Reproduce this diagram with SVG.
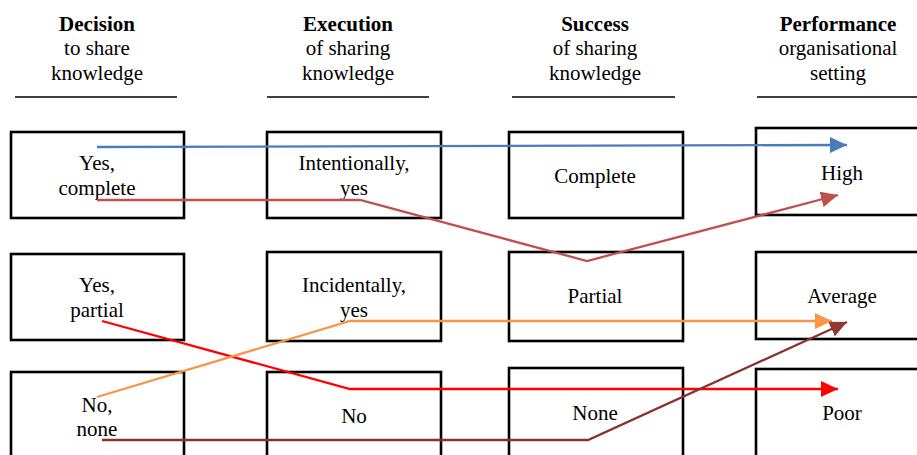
<svg xmlns="http://www.w3.org/2000/svg" width="917" height="455" viewBox="0 0 917 455">
  <style>
    text { font-family: 'Liberation Serif', 'Times New Roman', Tinos, 'DejaVu Serif', serif; font-size: 21px; fill: #000; text-anchor: middle; }
    .hd { font-weight: bold; }
    .rule { stroke: #000; stroke-width: 1.5; }
    .box { fill: none; stroke: #000; stroke-width: 2.6; }
    .link { fill: none; stroke-width: 2.3; stroke-linejoin: miter; }
  </style>
  <defs>
    <marker id="ah-blue" markerUnits="userSpaceOnUse" markerWidth="18" markerHeight="16" refX="17" refY="8" orient="auto"><path d="M0,0 L17,8 L0,16 Z" fill="#4A7EBB"/></marker>
    <marker id="ah-rose" markerUnits="userSpaceOnUse" markerWidth="18" markerHeight="16" refX="17" refY="8" orient="auto"><path d="M0,0 L17,8 L0,16 Z" fill="#C0504D"/></marker>
    <marker id="ah-red" markerUnits="userSpaceOnUse" markerWidth="18" markerHeight="16" refX="17" refY="8" orient="auto"><path d="M0,0 L17,8 L0,16 Z" fill="#FF0000"/></marker>
    <marker id="ah-orange" markerUnits="userSpaceOnUse" markerWidth="18" markerHeight="16" refX="17" refY="8" orient="auto"><path d="M0,0 L17,8 L0,16 Z" fill="#F79646"/></marker>
    <marker id="ah-brown" markerUnits="userSpaceOnUse" markerWidth="18" markerHeight="16" refX="17" refY="8" orient="auto"><path d="M0,0 L17,8 L0,16 Z" fill="#953735"/></marker>
  </defs>

  <g font-family="Liberation Serif, Times New Roman, DejaVu Serif, serif">
  <!-- column headers -->
  <g id="header-decision">
    <text x="97" y="31" class="hd">Decision</text>
    <text x="97" y="55">to share</text>
    <text x="97" y="80">knowledge</text>
    <line class="rule" x1="15" y1="97" x2="177" y2="97"/>
  </g>
  <g id="header-execution">
    <text x="348" y="31" class="hd">Execution</text>
    <text x="348" y="55">of sharing</text>
    <text x="348" y="80">knowledge</text>
    <line class="rule" x1="267" y1="97" x2="429" y2="97"/>
  </g>
  <g id="header-success">
    <text x="595" y="31" class="hd">Success</text>
    <text x="595" y="55">of sharing</text>
    <text x="595" y="80">knowledge</text>
    <line class="rule" x1="512" y1="97" x2="675" y2="97"/>
  </g>
  <g id="header-performance">
    <text x="838" y="31" class="hd">Performance</text>
    <text x="838" y="55">organisational</text>
    <text x="838" y="80">setting</text>
    <line class="rule" x1="757" y1="97" x2="917" y2="97"/>
  </g>

  <!-- decision column -->
  <g id="dec-yes-complete">
    <rect class="box" x="11" y="132" width="173" height="86"/>
    <text x="97" y="170">Yes,</text>
    <text x="97" y="195">complete</text>
  </g>
  <g id="dec-yes-partial">
    <rect class="box" x="11" y="254" width="173" height="86"/>
    <text x="97" y="292">Yes,</text>
    <text x="97" y="317">partial</text>
  </g>
  <g id="dec-no-none">
    <rect class="box" x="11" y="372" width="173" height="100"/>
    <text x="97" y="412">No,</text>
    <text x="97" y="436">none</text>
  </g>

  <!-- execution column -->
  <g id="exe-intentionally">
    <rect class="box" x="267" y="132" width="174" height="86"/>
    <text x="354" y="170">Intentionally,</text>
    <text x="354" y="195">yes</text>
  </g>
  <g id="exe-incidentally">
    <rect class="box" x="267" y="252" width="174" height="89"/>
    <text x="354" y="292">Incidentally,</text>
    <text x="354" y="317">yes</text>
  </g>
  <g id="exe-no">
    <rect class="box" x="267" y="372" width="174" height="100"/>
    <text x="354" y="423">No</text>
  </g>

  <!-- success column -->
  <g id="suc-complete">
    <rect class="box" x="509" y="132" width="174" height="86"/>
    <text x="595" y="183">Complete</text>
  </g>
  <g id="suc-partial">
    <rect class="box" x="509" y="252" width="174" height="89"/>
    <text x="595" y="303">Partial</text>
  </g>
  <g id="suc-none">
    <rect class="box" x="509" y="368" width="174" height="100"/>
    <text x="595" y="420">None</text>
  </g>

  <!-- performance column -->
  <g id="perf-high">
    <rect class="box" x="756" y="128" width="180" height="87"/>
    <text x="842" y="180">High</text>
  </g>
  <g id="perf-average">
    <rect class="box" x="756" y="252" width="180" height="87"/>
    <text x="842" y="303">Average</text>
  </g>
  <g id="perf-poor">
    <rect class="box" x="756" y="369" width="180" height="100"/>
    <text x="842" y="420">Poor</text>
  </g>
  </g>

  <!-- paths through the stages -->
  <g id="connectors">
    <path class="link" stroke="#4A7EBB" d="M97,147 L847,145" marker-end="url(#ah-blue)"/>
    <path class="link" stroke="#C0504D" d="M97,200 L360,200 L587,261 L838,195" marker-end="url(#ah-rose)"/>
    <path class="link" stroke="#FF0000" d="M102,321 L350,389 L838,389" marker-end="url(#ah-red)"/>
    <path class="link" stroke="#F79646" d="M97,397 L350,321 L832,321" marker-end="url(#ah-orange)"/>
    <path class="link" stroke="#8A3230" d="M102,440 L588,440 L847,322" marker-end="url(#ah-brown)"/>
  </g>
</svg>
